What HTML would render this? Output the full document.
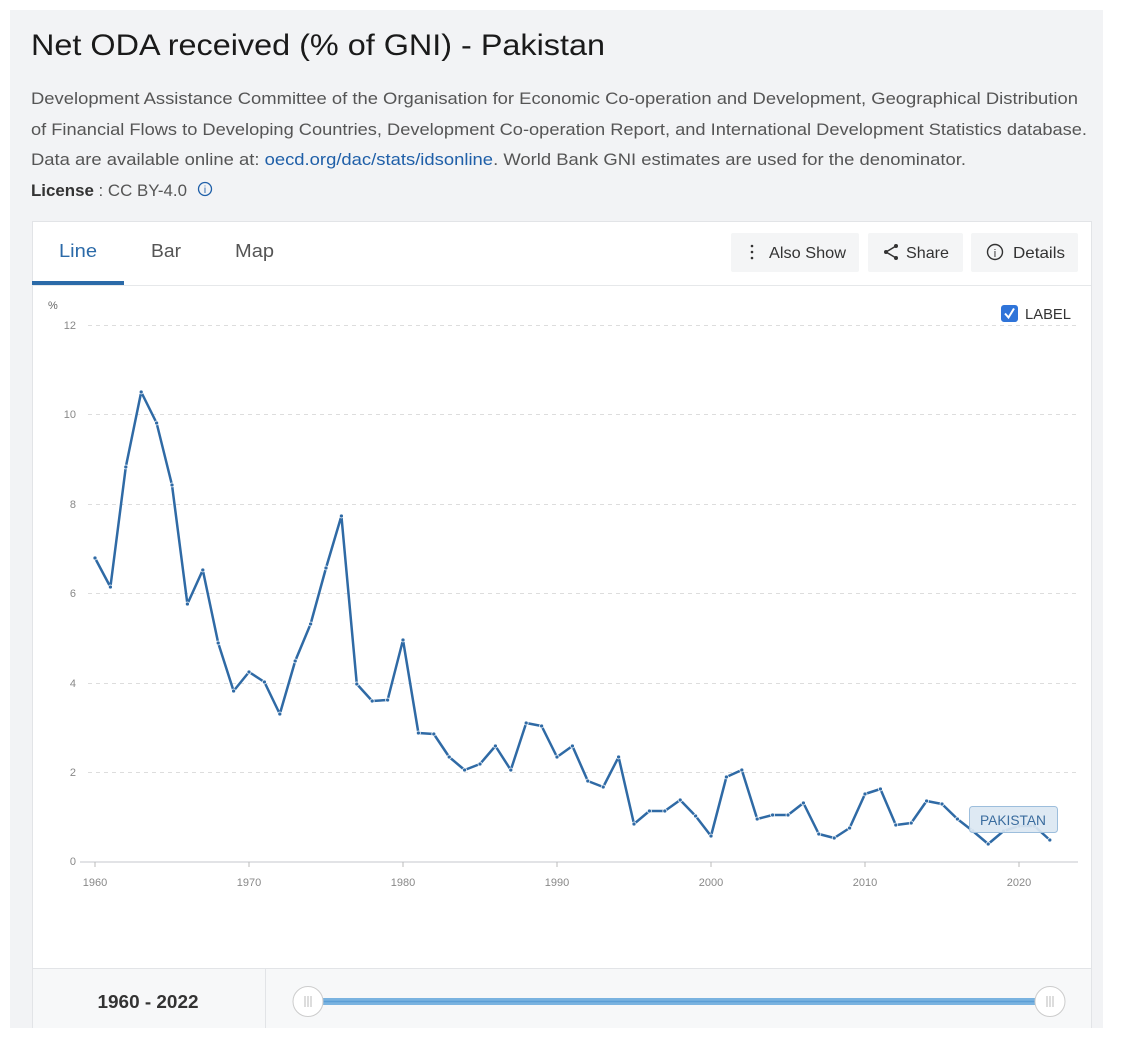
<!DOCTYPE html>
<html><head><meta charset="utf-8"><style>
html,body{margin:0;padding:0;background:#fff;width:1124px;height:1044px;overflow:hidden}
svg{display:block}
text{font-family:"Liberation Sans",sans-serif}
</style></head><body>
<svg width="1124" height="1044" viewBox="0 0 1124 1044">
<defs>
<marker id="dot" viewBox="0 0 10 10" refX="5" refY="5" markerWidth="5" markerHeight="5" markerUnits="userSpaceOnUse">
<circle cx="5" cy="5" r="4" fill="#2f6aa5" stroke="#fff" stroke-width="1.5"/>
</marker>
</defs>
<rect x="10" y="10" width="1093" height="1018" fill="#f2f3f5"/>
<text x="31" y="55" font-size="30" fill="#1a1a1a" textLength="574" lengthAdjust="spacingAndGlyphs">Net ODA received (% of GNI) - Pakistan</text>
<g font-size="17" fill="#555">
<text x="31" y="104" textLength="1047" lengthAdjust="spacingAndGlyphs">Development Assistance Committee of the Organisation for Economic Co-operation and Development, Geographical Distribution</text>
<text x="31" y="135" textLength="1056" lengthAdjust="spacingAndGlyphs">of Financial Flows to Developing Countries, Development Co-operation Report, and International Development Statistics database.</text>
<text x="31" y="165" textLength="935" lengthAdjust="spacingAndGlyphs">Data are available online at: <tspan fill="#1f5fa8">oecd.org/dac/stats/idsonline</tspan>. World Bank GNI estimates are used for the denominator.</text>
<text x="31" y="196" textLength="156" lengthAdjust="spacingAndGlyphs"><tspan font-weight="bold" fill="#333">License</tspan> : CC BY-4.0</text>
</g>
<circle cx="205" cy="189" r="6.5" fill="none" stroke="#1f5fa8" stroke-width="1.3"/>
<text x="205" y="193" font-size="10" fill="#1f5fa8" text-anchor="middle">i</text>
<rect x="32.5" y="221.5" width="1059" height="806" fill="#fff" stroke="#e2e4e7"/>
<line x1="33" y1="285.5" x2="1091" y2="285.5" stroke="#e6e8ea"/>
<rect x="32" y="281" width="92" height="4" fill="#2b6aa8"/>
<text x="59" y="257" font-size="18" fill="#2b6aa8" textLength="38" lengthAdjust="spacingAndGlyphs">Line</text>
<text x="151" y="257" font-size="18" fill="#555" textLength="30" lengthAdjust="spacingAndGlyphs">Bar</text>
<text x="235" y="257" font-size="18" fill="#555" textLength="39" lengthAdjust="spacingAndGlyphs">Map</text>
<g font-size="16" fill="#333">
<rect x="731" y="233" width="128" height="39" fill="#f4f5f6" rx="2"/>
<rect x="868" y="233" width="95" height="39" fill="#f4f5f6" rx="2"/>
<rect x="971" y="233" width="107" height="39" fill="#f4f5f6" rx="2"/>
<circle cx="752" cy="246" r="1.3" fill="#333"/><circle cx="752" cy="252" r="1.3" fill="#333"/><circle cx="752" cy="258" r="1.3" fill="#333"/>
<text x="769" y="258" textLength="77" lengthAdjust="spacingAndGlyphs">Also Show</text>
<path d="M896 246 L886 252 L896 258" fill="none" stroke="#333" stroke-width="1.5"/>
<circle cx="896" cy="246" r="2" fill="#333"/><circle cx="886" cy="252" r="2" fill="#333"/><circle cx="896" cy="258" r="2" fill="#333"/>
<text x="906" y="258" textLength="43" lengthAdjust="spacingAndGlyphs">Share</text>
<circle cx="995" cy="252" r="7.5" fill="none" stroke="#333" stroke-width="1.4"/>
<text x="995" y="257" font-size="11" text-anchor="middle">i</text>
<text x="1013" y="258" textLength="52" lengthAdjust="spacingAndGlyphs">Details</text>
</g>
<text x="48" y="309" font-size="11" fill="#666">%</text>
<rect x="1001" y="305" width="17" height="17" rx="3" fill="#2f74d9"/>
<path d="M1005 313.5 L1008.5 317.5 L1014 308.5" fill="none" stroke="#fff" stroke-width="2"/>
<text x="1025" y="319" font-size="15" fill="#333" textLength="46" lengthAdjust="spacingAndGlyphs">LABEL</text>
<g stroke="#ddd" stroke-dasharray="4,4" stroke-width="1">
<line x1="88" y1="325.5" x2="1078" y2="325.5"/>
<line x1="88" y1="414.5" x2="1078" y2="414.5"/>
<line x1="88" y1="504.5" x2="1078" y2="504.5"/>
<line x1="88" y1="593.5" x2="1078" y2="593.5"/>
<line x1="88" y1="683.5" x2="1078" y2="683.5"/>
<line x1="88" y1="772.5" x2="1078" y2="772.5"/>
</g>
<line x1="80" y1="862" x2="1078" y2="862" stroke="#d8dadd" stroke-width="1.5"/>
<g font-size="11" fill="#888" text-anchor="end">
<text x="76" y="329">12</text><text x="76" y="418">10</text><text x="76" y="508">8</text>
<text x="76" y="597">6</text><text x="76" y="687">4</text><text x="76" y="776">2</text><text x="76" y="865">0</text>
</g>
<g stroke="#bbb"><line x1="95" y1="862" x2="95" y2="867"/><line x1="249" y1="862" x2="249" y2="867"/><line x1="403" y1="862" x2="403" y2="867"/><line x1="557" y1="862" x2="557" y2="867"/><line x1="711" y1="862" x2="711" y2="867"/><line x1="865" y1="862" x2="865" y2="867"/><line x1="1019" y1="862" x2="1019" y2="867"/></g>
<g font-size="11" fill="#888" text-anchor="middle">
<text x="95" y="886">1960</text><text x="249" y="886">1970</text><text x="403" y="886">1980</text><text x="557" y="886">1990</text><text x="711" y="886">2000</text><text x="865" y="886">2010</text><text x="1019" y="886">2020</text>
</g>
<polyline fill="none" stroke="#2f6aa5" stroke-width="2.5" stroke-linejoin="round" marker-start="url(#dot)" marker-mid="url(#dot)" marker-end="url(#dot)" points="95,558 110.4,587 125.8,467 141.2,392 156.6,423 172,485 187.4,604 202.8,570 218.2,643 233.6,691 249,672 264.4,682 279.8,714 295.2,661 310.6,624 326,568 341.4,516 356.8,684 372.2,701 387.6,700 403,640 418.4,733 433.8,734 449.2,757 464.6,770 480,764 495.4,746 510.8,770 526.2,723 541.6,726 557,757 572.4,746 587.8,781 603.2,787 618.6,757 634,824 649.4,811 664.8,811 680.2,800 695.6,816 711,836 726.4,777 741.8,770 757.2,819 772.6,815 788,815 803.4,803 818.8,834 834.2,838 849.6,828 865,794 880.4,789 895.8,825 911.2,823 926.6,801 942,804 957.4,819 972.8,831 988.2,844 1003.6,831 1019,826 1034.4,826 1049.8,840"/>
<rect x="969.5" y="806.5" width="88" height="26" rx="3" fill="#dbe7f2" fill-opacity="0.92" stroke="#9dbedc"/>
<text x="1013" y="825" font-size="14" fill="#3a6c9e" text-anchor="middle" textLength="66" lengthAdjust="spacingAndGlyphs">PAKISTAN</text>
<rect x="33" y="968" width="1058" height="60" fill="#f7f8f9"/>
<line x1="33" y1="968.5" x2="1091" y2="968.5" stroke="#e2e4e7"/>
<line x1="265.5" y1="969" x2="265.5" y2="1028" stroke="#e2e4e7"/>
<text x="148" y="1008" font-size="18" font-weight="bold" fill="#333" text-anchor="middle" textLength="101" lengthAdjust="spacingAndGlyphs">1960 - 2022</text>
<rect x="308" y="998" width="742" height="7" fill="#7ab3e0"/>
<line x1="308" y1="1001.5" x2="1050" y2="1001.5" stroke="#5c9fd6" stroke-width="1.5"/>
<circle cx="308" cy="1001.5" r="15" fill="#fff" stroke="#ccc"/>
<circle cx="1050" cy="1001.5" r="15" fill="#fff" stroke="#ccc"/>
<g stroke="#bbb"><line x1="305" y1="996" x2="305" y2="1007"/><line x1="308" y1="996" x2="308" y2="1007"/><line x1="311" y1="996" x2="311" y2="1007"/>
<line x1="1047" y1="996" x2="1047" y2="1007"/><line x1="1050" y1="996" x2="1050" y2="1007"/><line x1="1053" y1="996" x2="1053" y2="1007"/></g>
</svg>
</body></html>
